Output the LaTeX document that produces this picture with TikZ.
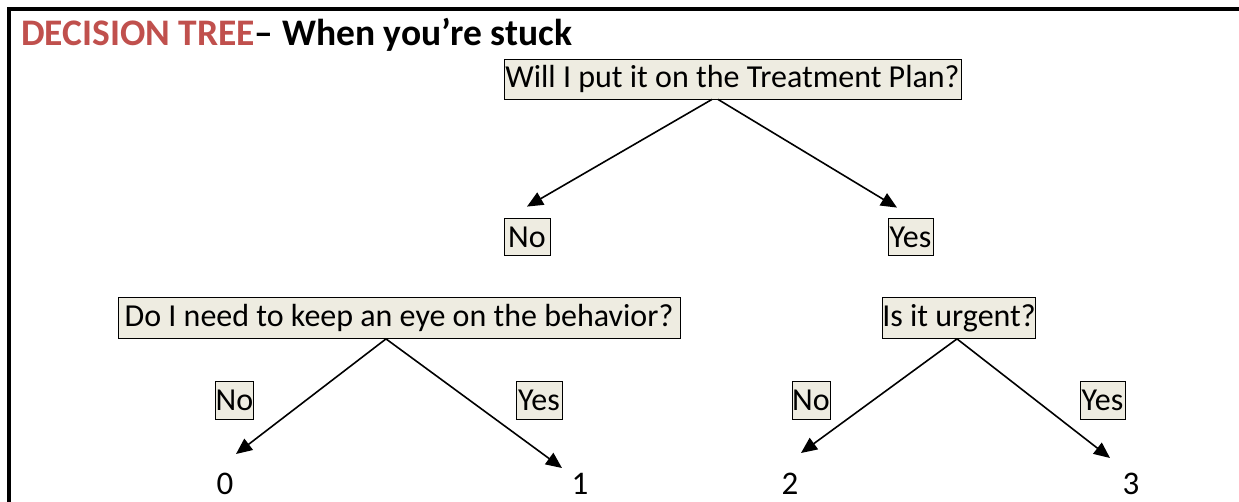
\documentclass[tikz,border=0pt]{standalone}
\usepackage{fontspec}
\setmainfont{Carlito}
\usetikzlibrary{arrows.meta}
\definecolor{boxfill}{HTML}{EEECE1}
\definecolor{titlered}{HTML}{C0504D}
\begin{document}
\begin{tikzpicture}[x=1pt,y=-1pt,
 qbox/.style={draw=black,line width=0.8pt,fill=boxfill,inner sep=0pt,font=\fontsize{32}{36}\selectfont,minimum height=40pt},
 lbox/.style={qbox,minimum height=37pt},
 num/.style={inner sep=0pt,font=\fontsize{33}{38}\selectfont},
 arr/.style={line width=1.6pt,-{Triangle[length=16pt,width=14pt]}}]
\useasboundingbox (0,0) rectangle (1239,502);
\draw[line width=4pt,line join=miter] (9,502) -- (9,9) -- (1239,9);
\node[anchor=base west,inner sep=0pt,font=\fontsize{37.5}{42}\selectfont\bfseries] (title) at (21,46) {\textcolor{titlered}{DECISION TREE}– When you’re stuck};
\node[qbox,minimum width=457pt] (q1) at (732.5,79) {Will I put it on the Treatment Plan?};
\node[lbox,minimum width=46pt] (no1) at (527,237) {No};
\node[lbox,minimum width=45pt] (yes1) at (910.5,237) {Yes};
\node[qbox,minimum width=562pt,minimum height=41pt] (q2) at (399,318) {Do I need to keep an eye on the behavior?};
\node[qbox,minimum width=146pt,minimum height=41pt] (q3) at (959,318) {Is it urgent?};
\node[lbox,minimum width=38pt,minimum height=38pt] (no2) at (234.5,400) {No};
\node[lbox,minimum width=46pt,minimum height=38pt] (yes2) at (539,400) {Yes};
\node[lbox,minimum width=38pt,minimum height=38pt] (no3) at (811,400) {No};
\node[lbox,minimum width=45pt,minimum height=38pt] (yes3) at (1102.5,400) {Yes};
\node[num] (n0) at (225,484) {0};
\node[num] (n1) at (580,484) {1};
\node[num] (n2) at (790,484) {2};
\node[num] (n3) at (1131,484) {3};
\draw[arr] ([xshift=-20.5pt]q1.south) -- ([yshift=11.5pt]no1.north);
\draw[arr] ([xshift=-14.5pt]q1.south) -- ([xshift=-13.5pt,yshift=10.5pt]yes1.north);
\draw[arr] ([xshift=-13pt]q2.south) -- ([xshift=11pt,yshift=30pt]n0.center);
\draw[arr] ([xshift=-13pt]q2.south) -- ([xshift=-18pt,yshift=16pt]n1.center);
\draw[arr] ([xshift=-2pt]q3.south) -- ([xshift=11pt,yshift=31pt]n2.center);
\draw[arr] ([xshift=-2pt]q3.south) -- ([xshift=-21pt,yshift=26pt]n3.center);
\end{tikzpicture}
\end{document}
